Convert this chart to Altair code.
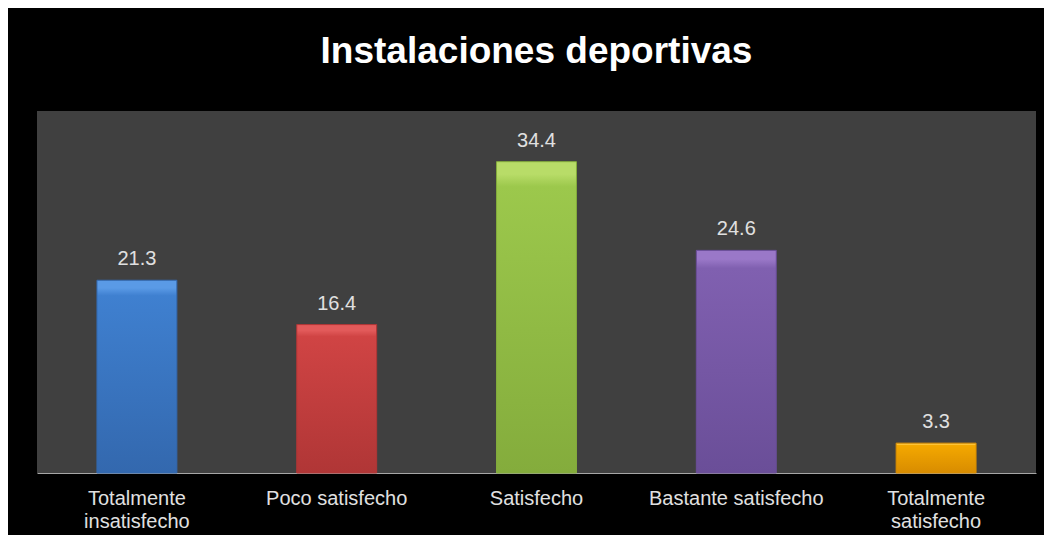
import altair as alt
import pandas as pd

categories = ["Totalmente insatisfecho", "Poco satisfecho", "Satisfecho",
              "Bastante satisfecho", "Totalmente satisfecho"]
values = [21.3, 16.4, 34.4, 24.6, 3.3]
top_colors = ["#5a9ae6", "#e25a5a", "#b8dc68", "#9a78c8", "#ffc840"]
mid_colors = ["#3f80d0", "#d04444", "#9cc84c", "#8060b0", "#f4a800"]
bot_colors = ["#3368ae", "#b03636", "#84ac3c", "#6a4e98", "#d88c00"]

df = pd.DataFrame({"cat": categories, "val": values})

FONT = "Liberation Sans"

x_enc = alt.X(
    "cat:N",
    scale=alt.Scale(domain=categories, paddingInner=0.6, paddingOuter=0.3),
    axis=alt.Axis(
        title=None, labelAngle=0, ticks=False, domainColor="#a6a6a6",
        domainWidth=1, labelColor="#e0e0e0", labelFontSize=20, labelFont=FONT,
        labelPadding=15, labelLineHeight=23, labelBaseline="top",
        labelExpr="indexof(datum.label, 'Totalmente') == 0 ? split(datum.label, ' ') : datum.label",
        grid=False,
    ),
)
y_enc = alt.Y("val:Q", scale=alt.Scale(domain=[0, 40]), axis=None)

base = alt.Chart(df).encode(x=x_enc, y=y_enc)

layers = []
for c, t, m, b in zip(categories, top_colors, mid_colors, bot_colors):
    grad = alt.Gradient(
        gradient="linear", x1=0, x2=0, y1=0, y2=1,
        stops=[
            alt.GradientStop(color=t, offset=0),
            alt.GradientStop(color=t, offset=0.04),
            alt.GradientStop(color=m, offset=0.08),
            alt.GradientStop(color=b, offset=1),
        ],
    )
    layers.append(
        base.mark_bar(color=grad, stroke=b, strokeWidth=1)
        .transform_filter(alt.datum.cat == c)
    )

labels = base.mark_text(
    dy=-15, baseline="alphabetic", fontSize=20, font=FONT, color="#e0e0e0"
).encode(text=alt.Text("val:Q", format=".1f"))

chart = (
    alt.layer(*layers, labels)
    .properties(
        width=999,
        height=362,
        title=alt.TitleParams(
            "Instalaciones deportivas", fontSize=37, fontWeight="bold",
            color="white", font=FONT, anchor="middle", baseline="alphabetic",
            offset=11,
        ),
        background="black",
        padding={"left": 29, "top": 103, "right": 8, "bottom": 62},
        autosize=alt.AutoSizeParams(type="none"),
    )
    .configure_view(fill="#404040", stroke=None)
)

chart.save("out.html", embed_options={"renderer": "svg", "actions": False})
